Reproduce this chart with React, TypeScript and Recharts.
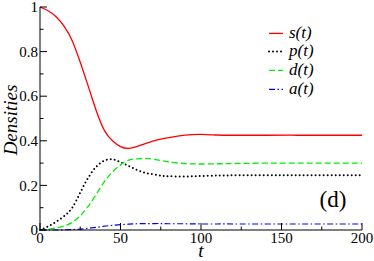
import { Label, Legend, Line, LineChart, XAxis, YAxis } from "recharts"

const SERIF = "'Liberation Serif', 'DejaVu Serif', serif"
const FRAME = "#000"
const MAJOR = 7
const MINOR = 3.5

// time grid and the four densities
const T = [0, 5, 10, 15, 20, 25, 30, 35, 40, 45, 50, 55, 60, 65, 70, 75, 80, 90, 100, 110, 120, 140, 160, 180, 200]
const S = [1.0, 0.983, 0.956, 0.913, 0.849, 0.752, 0.644, 0.534, 0.447, 0.4, 0.374, 0.366, 0.374, 0.386, 0.398, 0.407, 0.414, 0.425, 0.429, 0.426, 0.425, 0.425, 0.425, 0.425, 0.425]
const P = [0, 0.016, 0.037, 0.062, 0.1, 0.168, 0.235, 0.284, 0.311, 0.317, 0.304, 0.287, 0.27, 0.257, 0.25, 0.244, 0.241, 0.24, 0.242, 0.244, 0.245, 0.245, 0.245, 0.245, 0.245]
const D = [0, 0.003, 0.009, 0.018, 0.034, 0.064, 0.107, 0.161, 0.217, 0.26, 0.292, 0.313, 0.319, 0.321, 0.318, 0.312, 0.305, 0.298, 0.296, 0.297, 0.298, 0.3, 0.3, 0.3, 0.3]
const A = [0, 0, 0, 0.001, 0.002, 0.004, 0.008, 0.012, 0.017, 0.021, 0.024, 0.026, 0.028, 0.029, 0.029, 0.029, 0.028, 0.028, 0.027, 0.027, 0.027, 0.027, 0.027, 0.027, 0.027]

const X_TICKS = [0, 25, 50, 75, 100, 125, 150, 175, 200]
const Y_TICKS = [0, 0.1, 0.2, 0.3, 0.4, 0.5, 0.6, 0.7, 0.8, 0.9, 1]

const data = T.map((t, i) => ({ t, s: S[i], p: P[i], d: D[i], a: A[i] }))

const SERIES = [
  { key: "s", name: "s(t)", color: "#ff0000", width: 1.3, dash: undefined, cap: "butt" },
  { key: "p", name: "p(t)", color: "#000000", width: 2, dash: "0 4", cap: "round" },
  { key: "d", name: "d(t)", color: "#00ee00", width: 1.3, dash: "6 3", cap: "butt" },
  { key: "a", name: "a(t)", color: "#0000ff", width: 1.2, dash: "6 2.5 1.5 2.5", cap: "butt" },
] as const

const isMajor = (v: number, step: number) => Math.abs(v / step - Math.round(v / step)) < 1e-6

const tickText = { fontSize: 15, fill: "#000", fontFamily: SERIF }

function BottomTick({ x, y, payload }: any) {
  const v = payload.value
  const major = isMajor(v, 50)
  const axisY = y - 2
  return (
    <g>
      <line x1={x} x2={x} y1={axisY} y2={axisY - (major ? MAJOR : MINOR)} stroke={FRAME} />
      {major && (
        <text x={x} y={y} dy="0.71em" textAnchor="middle" {...tickText}>
          {v}
        </text>
      )}
    </g>
  )
}

function TopTick({ x, y, payload }: any) {
  const major = isMajor(payload.value, 50)
  return <line x1={x} x2={x} y1={y} y2={y + (major ? MAJOR : MINOR)} stroke={FRAME} />
}

function LeftTick({ x, y, payload }: any) {
  const v = payload.value
  const major = isMajor(v, 0.2)
  const axisX = x + 2
  return (
    <g>
      <line x1={axisX} x2={axisX + (major ? MAJOR : MINOR)} y1={y} y2={y} stroke={FRAME} />
      {major && (
        <text x={x} y={y} dy="0.35em" textAnchor="end" {...tickText}>
          {String(Math.round(v * 10) / 10)}
        </text>
      )}
    </g>
  )
}

function RightTick({ x, y, payload }: any) {
  const major = isMajor(payload.value, 0.2)
  return <line x1={x} x2={x - (major ? MAJOR : MINOR)} y1={y} y2={y} stroke={FRAME} />
}

function LegendBox({ payload }: any) {
  const entries = payload || []
  return (
    <div style={{ fontFamily: SERIF, fontStyle: "italic", fontSize: 17, color: "#000" }}>
      {SERIES.map((s) => {
        const e = entries.find((x: any) => x.dataKey === s.key)
        return (
          <div key={s.key} style={{ display: "flex", alignItems: "center", height: 18.8 }}>
            <svg width={20} height={18.8}>
              <line
                x1={4}
                x2={18}
                y1={9.4}
                y2={9.4}
                stroke={e ? e.color : s.color}
                strokeWidth={s.width}
                strokeDasharray={s.dash}
                strokeLinecap={s.cap}
              />
            </svg>
            <span style={{ marginLeft: 4, lineHeight: "18.8px" }}>{e ? e.value : s.name}</span>
          </div>
        )
      })}
    </div>
  )
}

export default function App() {
  return (
    <div style={{ position: "absolute", left: 0, top: 0, width: 374, height: 261, background: "#fff" }}>
      <LineChart width={374} height={261} data={data} margin={{ top: 7, right: 12, bottom: 0, left: 0 }}>
        <XAxis
          dataKey="t"
          type="number"
          domain={[0, 200]}
          ticks={X_TICKS}
          interval={0}
          height={31}
          tickSize={0}
          tickMargin={2}
          tickLine={false}
          axisLine={{ stroke: FRAME }}
          tick={<BottomTick />}
        >
          <Label
            content={({ viewBox }: any) => (
              <text
                x={viewBox.x + viewBox.width / 2}
                y={256.5}
                textAnchor="middle"
                fontStyle="italic"
                fontSize={19}
                fill="#000"
                fontFamily={SERIF}
              >
                t
              </text>
            )}
          />
        </XAxis>
        <XAxis
          xAxisId="top"
          orientation="top"
          dataKey="t"
          type="number"
          domain={[0, 200]}
          ticks={X_TICKS}
          interval={0}
          height={0}
          tickSize={0}
          tickMargin={0}
          tickLine={false}
          axisLine={{ stroke: FRAME }}
          tick={<TopTick />}
        />
        <YAxis
          type="number"
          domain={[0, 1]}
          ticks={Y_TICKS}
          interval={0}
          width={40}
          tickSize={0}
          tickMargin={2}
          tickLine={false}
          axisLine={{ stroke: FRAME }}
          tick={<LeftTick />}
        >
          <Label
            content={({ viewBox }: any) => {
              const cx = 17
              const cy = viewBox.y + viewBox.height / 2 + 1.5
              return (
                <text
                  x={cx}
                  y={cy}
                  transform={`rotate(-90 ${cx} ${cy})`}
                  textAnchor="middle"
                  fontStyle="italic"
                  fontSize={19}
                  fill="#000"
                  fontFamily={SERIF}
                >
                  Densities
                </text>
              )
            }}
          />
        </YAxis>
        <YAxis
          yAxisId="right"
          orientation="right"
          type="number"
          domain={[0, 1]}
          ticks={Y_TICKS}
          interval={0}
          width={0}
          tickSize={0}
          tickMargin={0}
          tickLine={false}
          axisLine={{ stroke: FRAME }}
          tick={<RightTick />}
        />
        <Legend
          layout="vertical"
          align="center"
          verticalAlign="middle"
          content={<LegendBox />}
          wrapperStyle={{ left: 265, top: 23.6, width: 90 }}
        />
        {SERIES.map((s) => (
          <Line
            key={s.key}
            dataKey={s.key}
            name={s.name}
            type="natural"
            stroke={s.color}
            strokeWidth={s.width}
            strokeDasharray={s.dash}
            strokeLinecap={s.cap}
            dot={false}
            activeDot={false}
            isAnimationActive={false}
          />
        ))}
      </LineChart>
      <div
        style={{
          position: "absolute",
          left: 319.5,
          top: 188,
          fontFamily: SERIF,
          fontSize: 23,
          lineHeight: "23px",
          color: "#000",
        }}
      >
        (d)
      </div>
    </div>
  )
}
